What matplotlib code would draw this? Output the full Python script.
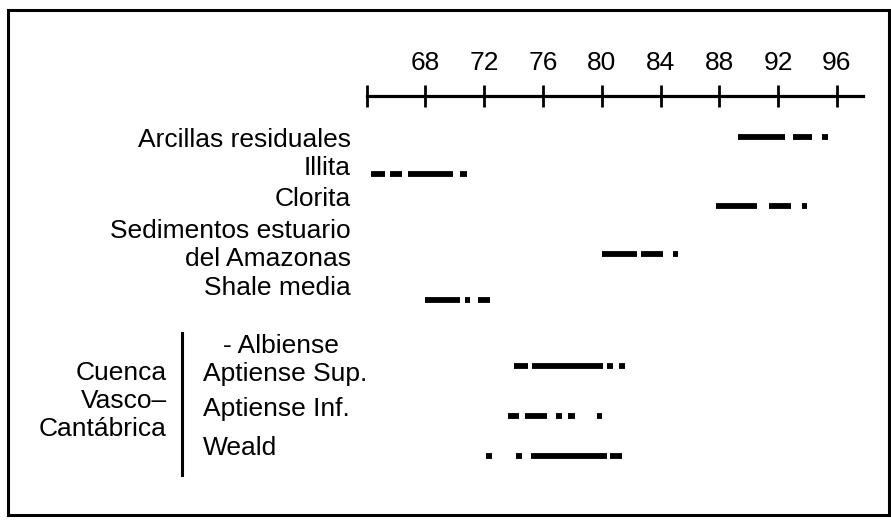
import matplotlib
matplotlib.use("Agg")
import matplotlib.pyplot as plt
from matplotlib.patches import Rectangle

plt.rcParams['font.family'] = ['Liberation Sans', 'DejaVu Sans']

# escala superior
ticks = [64, 68, 72, 76, 80, 84, 88, 92, 96]
tick_labels = ['', '68', '72', '76', '80', '84', '88', '92', '96']

# tramos (inicio, fin)
arcillas = [(89.3, 92.5), (93.0, 94.3), (95.0, 95.4)]
illita = [(64.3, 65.25), (65.6, 66.4), (66.8, 69.9), (70.35, 70.8)]
clorita = [(87.8, 90.55), (91.4, 92.9), (93.6, 93.95)]
sedimentos = [(80.0, 82.4), (82.7, 84.2), (84.85, 85.2)]
shale = [(68.0, 70.35), (70.7, 71.0), (71.6, 72.4)]
aptiense_sup = [(74.0, 75.0), (75.25, 80.1), (80.35, 80.75), (81.2, 81.6)]
aptiense_inf = [(73.6, 74.4), (74.8, 76.25), (76.9, 77.3), (77.7, 78.2), (79.65, 80.05)]
weald = [(72.1, 72.5), (74.15, 74.55), (75.2, 80.35), (80.55, 81.35)]

series = [arcillas, illita, clorita, sedimentos, shale,
          aptiense_sup, aptiense_inf, weald]
# posicion vertical de cada fila (px desde arriba)
row_y = [137, 174, 206, 254, 300, 366, 416, 456]

W, H = 891, 522
fig = plt.figure(figsize=(W / 100, H / 100), dpi=100)

x0_px, unit_px = 366.7, 14.69
xmax = 97.8
ax = fig.add_axes([x0_px / W, 0, (xmax - 64) * unit_px / W, 1])
ax.set_xlim(64, xmax)
ax.set_ylim(H, 0)
ax.patch.set_alpha(0)

for segs, y in zip(series, row_y):
    for a, b in segs:
        ax.hlines(y, a, b, colors='black', lw=4.2, capstyle='butt')

for s in ['left', 'right', 'bottom']:
    ax.spines[s].set_visible(False)
ax.spines['top'].set_position(('data', 96))
ax.spines['top'].set_linewidth(2.3)
ax.xaxis.set_ticks_position('top')
ax.set_xticks(ticks)
ax.set_xticklabels(tick_labels)
ax.tick_params(axis='x', direction='inout', length=16, width=2, pad=7,
               labelsize=19)
ax.set_yticks([])

# etiquetas
def label(x, y, s, ha):
    fig.text(x / W, 1 - y / H, s, ha=ha, va='center', fontsize=19)

label(351, 140, 'Arcillas residuales', 'right')
label(351, 168, 'Illita', 'right')
label(351, 199, 'Clorita', 'right')
label(351, 231, 'Sedimentos estuario', 'right')
label(351, 259, 'del Amazonas', 'right')
label(351, 288, 'Shale media', 'right')

label(223, 346, '- Albiense', 'left')
label(203, 374, 'Aptiense Sup.', 'left')
label(203, 409, 'Aptiense Inf.', 'left')
label(203, 448, 'Weald', 'left')

label(167, 373, 'Cuenca', 'right')
label(167, 401, 'Vasco–', 'right')
label(167, 429, 'Cantábrica', 'right')

# llave vertical
fig.add_artist(plt.Line2D([182 / W, 182 / W], [1 - 333 / H, 1 - 475 / H],
                          color='black', lw=2.2))
# marco
fig.add_artist(Rectangle((8 / W, 1 - 515 / H), (889 - 8) / W, (515 - 10) / H,
                         fill=False, edgecolor='black', lw=2.2))

fig.savefig('out.png', dpi=100)
